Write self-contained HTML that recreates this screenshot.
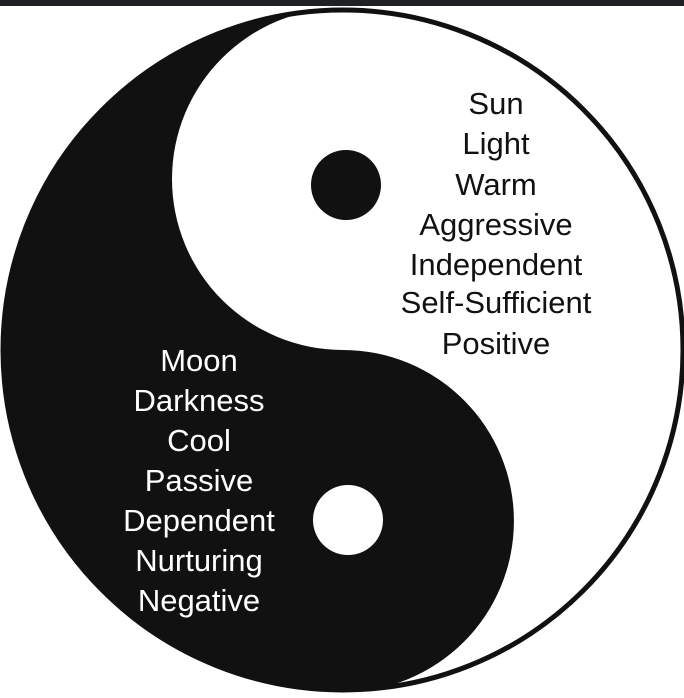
<!DOCTYPE html>
<html><head><style>
html,body{margin:0;padding:0;background:#fff;}
svg{display:block;}
text{font-family:"Liberation Sans",sans-serif;font-size:31px;text-anchor:middle;}
</style></head><body>
<svg width="684" height="698" viewBox="0 0 684 698" xmlns="http://www.w3.org/2000/svg">
<rect width="684" height="698" fill="#fff"/>
<rect x="0" y="0" width="684" height="6" fill="#202124"/>
<path d="M343 8 A171 171 0 0 0 343 350 A171 171 0 0 1 343 692 A342 342 0 0 1 343 8 Z" fill="#111"/>
<circle cx="343" cy="350" r="340" fill="none" stroke="#111" stroke-width="5"/>
<circle cx="346" cy="185" r="35" fill="#111"/>
<circle cx="348" cy="520" r="35" fill="#fff"/>
<g fill="#111">
<text x="496" y="114">Sun</text>
<text x="496" y="154">Light</text>
<text x="496" y="195">Warm</text>
<text x="496" y="235">Aggressive</text>
<text x="496" y="275">Independent</text>
<text x="496" y="313">Self-Sufficient</text>
<text x="496" y="354">Positive</text>
</g>
<g fill="#fff">
<text x="199" y="371">Moon</text>
<text x="199" y="411">Darkness</text>
<text x="199" y="451">Cool</text>
<text x="199" y="491">Passive</text>
<text x="199" y="531">Dependent</text>
<text x="199" y="571">Nurturing</text>
<text x="199" y="611">Negative</text>
</g>
</svg>
</body></html>
